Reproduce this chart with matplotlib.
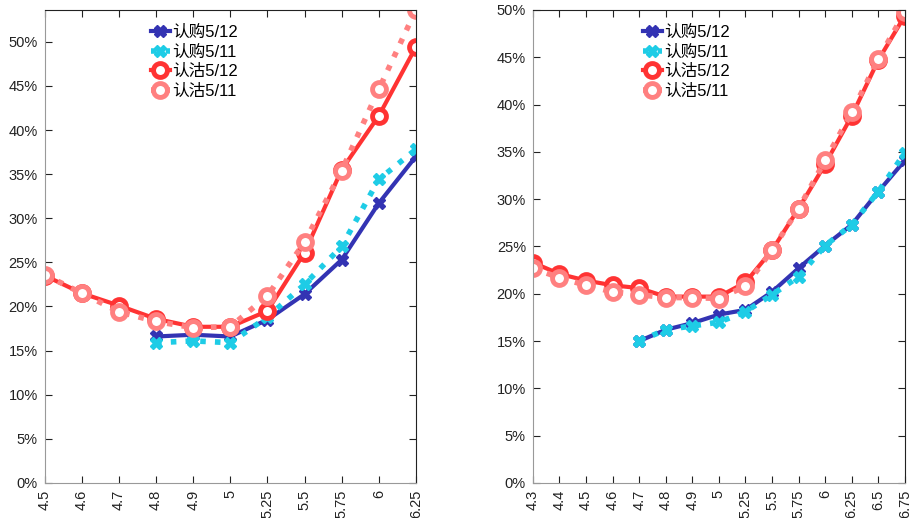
import matplotlib.pyplot as plt
from matplotlib.ticker import PercentFormatter

plt.rcParams['font.family'] = ['Liberation Sans', 'Noto Sans CJK SC']

# 左图：执行价与隐含波动率
strikes_l = ['4.5', '4.6', '4.7', '4.8', '4.9', '5', '5.25', '5.5', '5.75', '6', '6.25']
call_0512_l = [None, None, None, 0.166, 0.168, 0.166, 0.185, 0.214, 0.253, 0.317, 0.370]
call_0511_l = [None, None, None, 0.159, 0.161, 0.159, 0.188, 0.225, 0.268, 0.344, 0.378]
put_0512_l = [0.235, 0.215, 0.201, 0.186, 0.177, 0.177, 0.195, 0.261, 0.355, 0.416, 0.494]
put_0511_l = [0.236, 0.215, 0.194, 0.183, 0.176, 0.177, 0.212, 0.273, 0.354, 0.446, 0.536]

# 右图
strikes_r = ['4.3', '4.4', '4.5', '4.6', '4.7', '4.8', '4.9', '5', '5.25', '5.5', '5.75',
             '6', '6.25', '6.5', '6.75']
call_0512_r = [None, None, None, None, 0.150, 0.162, 0.169, 0.178, 0.183, 0.202, 0.227,
               0.251, 0.273, 0.308, 0.341]
call_0511_r = [None, None, None, None, 0.150, 0.162, 0.166, 0.170, 0.181, 0.199, 0.218,
               0.251, 0.273, 0.308, 0.349]
put_0512_r = [0.233, 0.221, 0.214, 0.209, 0.206, 0.197, 0.197, 0.197, 0.212, 0.246, 0.290,
              0.337, 0.388, 0.447, 0.494]
put_0511_r = [0.227, 0.217, 0.209, 0.202, 0.199, 0.196, 0.196, 0.195, 0.208, 0.246, 0.290,
              0.341, 0.392, 0.448, 0.498]

labels = ['认购5/12', '认购5/11', '认沽5/12', '认沽5/11']
colors = ['#3333b3', '#1ecce6', '#ff3333', '#ff8080']


def to_float(vals):
    return [float('nan') if v is None else v for v in vals]


def draw(ax, strikes, series, ymax, legend_x):
    x = list(range(len(strikes)))
    styles = [('-', 'X', 3), (':', 'X', 4), ('-', 'o', 3), (':', 'o', 4)]
    for vals, lab, col, (ls, mk, lw) in zip(series, labels, colors, styles):
        if mk == 'o':
            ax.plot(x, to_float(vals), ls=ls, lw=lw, color=col, marker='o', ms=10,
                    mfc='white', mec=col, mew=3.5, label=lab)
        else:
            ax.plot(x, to_float(vals), ls=ls, lw=lw, color=col, marker='X', ms=9,
                    mfc=col, mec=col, label=lab)
    ax.set_xlim(0, len(strikes) - 1)
    ax.set_ylim(0, ymax)
    ax.set_xticks(x)
    ax.set_xticklabels(strikes, rotation=90)
    ax.set_yticks([i * 0.05 for i in range(11)])
    ax.yaxis.set_major_formatter(PercentFormatter(1.0, decimals=0))
    ax.tick_params(direction='in', top=True, right=True, length=5, labelsize=10.5,
                   color='#222222', labelcolor='#222222', pad=5)
    for side in ['left', 'bottom']:
        ax.spines[side].set_color('#999999')
    for side in ['top', 'right']:
        ax.spines[side].set_color('#222222')
    ax.legend(loc='upper left', bbox_to_anchor=(legend_x, 0.99), frameon=False,
              fontsize=12, handlelength=1.1, handletextpad=0.15, labelspacing=0.28,
              borderaxespad=0.2)


fig = plt.figure(figsize=(9.14, 5.18), dpi=100)
ax1 = fig.add_axes([0.049, 0.0676, 0.406, 0.9131])
ax2 = fig.add_axes([0.583, 0.0676, 0.407, 0.9131])

draw(ax1, strikes_l, [call_0512_l, call_0511_l, put_0512_l, put_0511_l], 0.536, 0.26)
draw(ax2, strikes_r, [call_0512_r, call_0511_r, put_0512_r, put_0511_r], 0.50, 0.27)

fig.savefig('out.png', dpi=100)
